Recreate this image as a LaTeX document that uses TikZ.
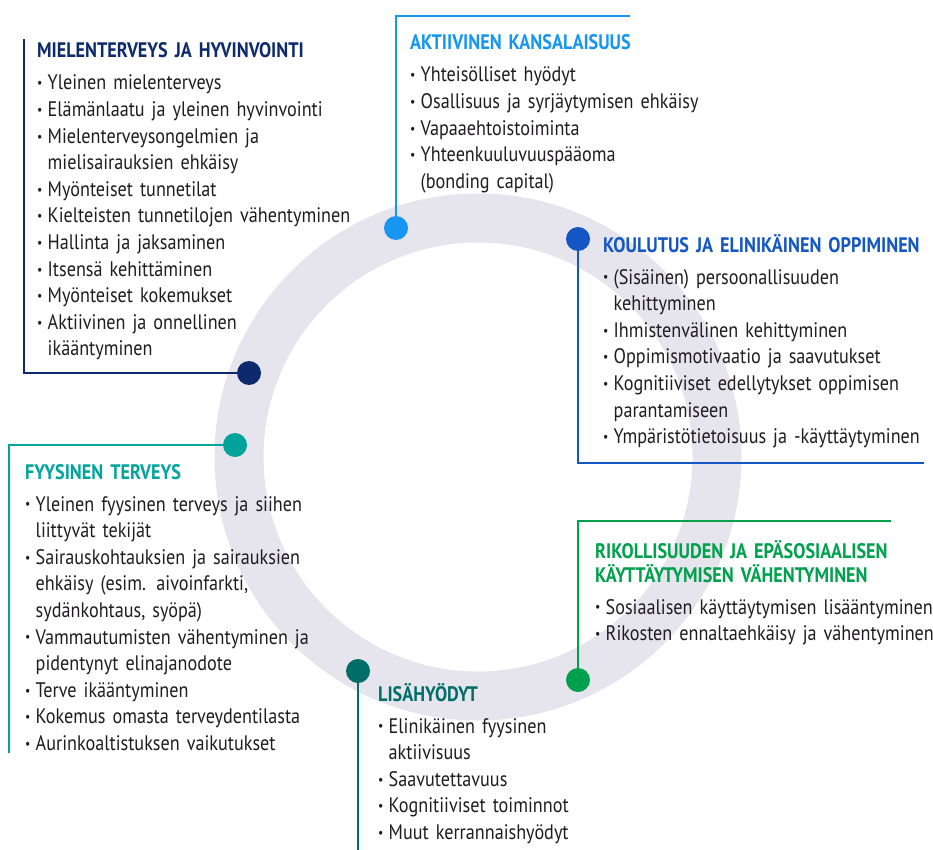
\documentclass[tikz,border=0pt]{standalone}
\usepackage{fontspec}
\usepackage{graphicx}
\setmainfont{PT Sans}[FakeStretch=0.865, WordSpace=0.85]
\usetikzlibrary{positioning}

\definecolor{ringcol}{RGB}{230,228,237}
\definecolor{textcol}{RGB}{30,28,30}
\definecolor{mentalcol}{RGB}{13,42,108}
\definecolor{citizencol}{RGB}{22,150,240}
\definecolor{learncol}{RGB}{20,86,196}
\definecolor{physcol}{RGB}{0,164,154}
\definecolor{extracol}{RGB}{0,110,104}
\definecolor{crimecol}{RGB}{0,160,76}

\tikzstyle{dot} = [circle, minimum size=24pt, inner sep=0pt]
\tikzstyle{link} = [draw, line width=2.5pt]
\tikzstyle{block} = [anchor=base west, align=left, inner sep=0pt, text width=420pt,
    text=textcol, font=\fontsize{21}{26.6}\selectfont]

\newcommand{\itm}{\makebox[10.5pt][l]{\raisebox{0.1em}{\scalebox{0.65}{\textbullet}}}}
\newcommand{\ind}{\hspace*{10.5pt}}

\begin{document}
\begin{tikzpicture}[x=1pt, y=-1pt]
    \useasboundingbox (0,0) rectangle (933,850);
    % ring
    \draw [ringcol, line width=49pt] (478,457) circle (239pt);

    % Place dots
    \node [dot, fill=mentalcol] (dMental) at (249,373) {};
    \node [dot, fill=citizencol] (dCitizen) at (396,228) {};
    \node [dot, fill=learncol] (dLearn) at (578,239) {};
    \node [dot, fill=physcol] (dPhys) at (235,445) {};
    \node [dot, fill=extracol] (dExtra) at (358,671) {};
    \node [dot, fill=crimecol] (dCrime) at (578,680) {};

    % line ends
    \coordinate (mentalEnd) at (24,39);
    \coordinate (citizenEnd) at (630,16);
    \coordinate (learnEnd) at (924,463);
    \coordinate (physEnd) at (9,753);
    \coordinate (extraEnd) at (358,850);
    \coordinate (crimeEnd) at (891,521);

    % Draw lines
    \path [link, mentalcol] (dMental) -| (mentalEnd);
    \path [link, citizencol] (dCitizen) |- (citizenEnd);
    \path [link, learncol] (dLearn) |- (learnEnd);
    \path [link, physcol] (dPhys) -| (physEnd);
    \path [link, extracol] (dExtra) -- (extraEnd);
    \path [link, crimecol] (dCrime) |- (crimeEnd);

    % Place texts
    \node [block] (mental) at (37,58) {\textcolor{mentalcol}{\textbf{MIELENTERVEYS JA HYVINVOINTI}}\\[5.4pt]
        \itm Yleinen mielenterveys\\
        \itm Elämänlaatu ja yleinen hyvinvointi\\
        \itm Mielenterveysongelmien ja\\
        \ind mielisairauksien ehkäisy\\
        \itm Myönteiset tunnetilat\\
        \itm Kielteisten tunnetilojen vähentyminen\\
        \itm Hallinta ja jaksaminen\\
        \itm Itsensä kehittäminen\\
        \itm Myönteiset kokemukset\\
        \itm Aktiivinen ja onnellinen\\
        \ind ikääntyminen};
    \node [block] (citizen) at (410,50) {\textcolor{citizencol}{\textbf{AKTIIVINEN KANSALAISUUS}}\\[5.4pt]
        \itm Yhteisölliset hyödyt\\
        \itm Osallisuus ja syrjäytymisen ehkäisy\\
        \itm Vapaaehtoistoiminta\\
        \itm Yhteenkuuluvuuspääoma\\
        \ind (bonding capital)};
    \node [block] (learn) at (603,252) {\textcolor{learncol}{\textbf{KOULUTUS JA ELINIKÄINEN OPPIMINEN}}\\[5.4pt]
        \itm (Sisäinen) persoonallisuuden\\
        \ind kehittyminen\\
        \itm Ihmistenvälinen kehittyminen\\
        \itm Oppimismotivaatio ja saavutukset\\
        \itm Kognitiiviset edellytykset oppimisen\\
        \ind parantamiseen\\
        \itm Ympäristötietoisuus ja -käyttäytyminen};
    \node [block] (phys) at (25,479) {\textcolor{physcol}{\textbf{FYYSINEN TERVEYS}}\\[5.4pt]
        \itm Yleinen fyysinen terveys ja siihen\\
        \ind liittyvät tekijät\\
        \itm Sairauskohtauksien ja sairauksien\\
        \ind ehkäisy (esim. aivoinfarkti,\\
        \ind sydänkohtaus, syöpä)\\
        \itm Vammautumisten vähentyminen ja\\
        \ind pidentynyt elinajanodote\\
        \itm Terve ikääntyminen\\
        \itm Kokemus omasta terveydentilasta\\
        \itm Aurinkoaltistuksen vaikutukset};
    \node [block] (extra) at (378,701) {\textcolor{extracol}{\textbf{LISÄHYÖDYT}}\\[5.4pt]
        \itm Elinikäinen fyysinen\\
        \ind aktiivisuus\\
        \itm Saavutettavuus\\
        \itm Kognitiiviset toiminnot\\
        \itm Muut kerrannaishyödyt};
    \node [block] (crime) at (595,558) {\textcolor{crimecol}{\textbf{RIKOLLISUUDEN JA EPÄSOSIAALISEN}}\\[-2.6pt]
        \textcolor{crimecol}{\textbf{KÄYTTÄYTYMISEN VÄHENTYMINEN}}\\[5.4pt]
        \itm Sosiaalisen käyttäytymisen lisääntyminen\\
        \itm Rikosten ennaltaehkäisy ja vähentyminen};
\end{tikzpicture}
\end{document}
